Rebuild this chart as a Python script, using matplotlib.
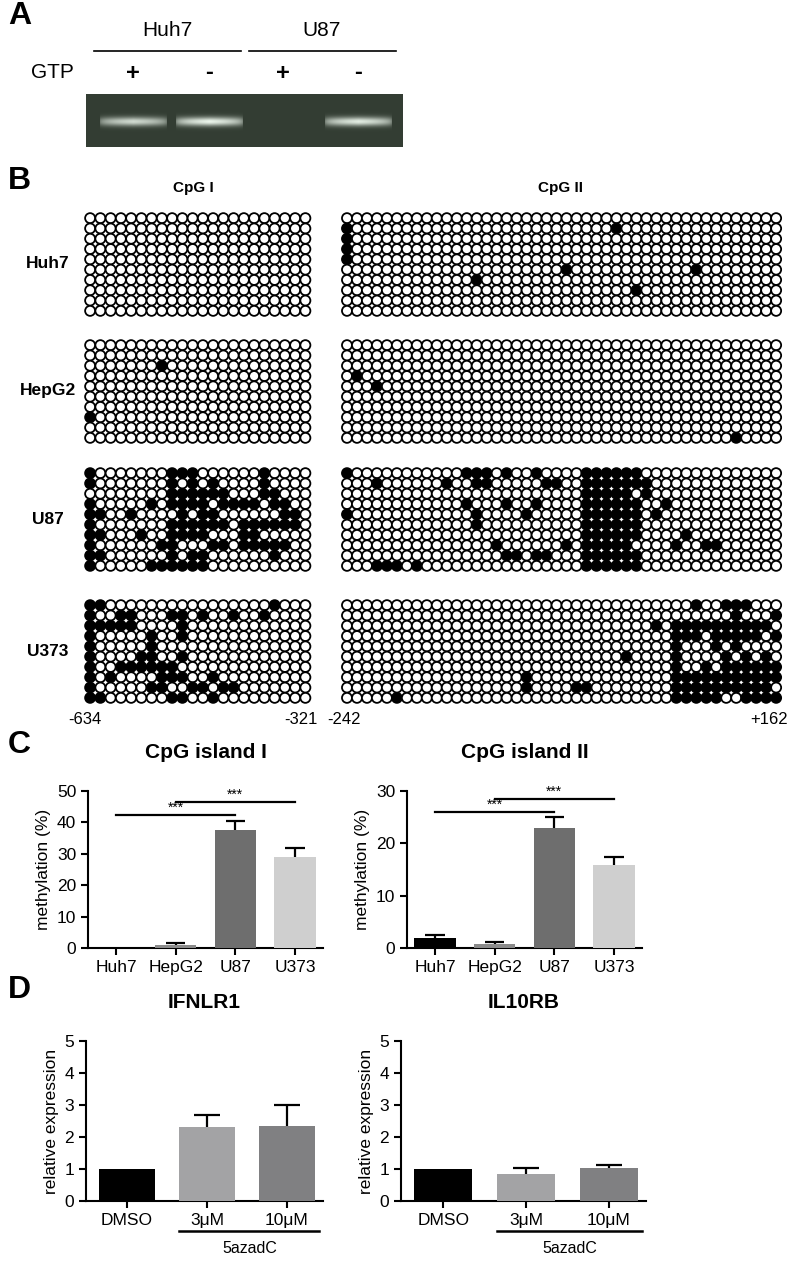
import matplotlib
matplotlib.use("Agg")
import matplotlib.pyplot as plt
import numpy as np

plt.rcParams["font.family"] = "Liberation Sans"

# ---------------- data ----------------
gel_lanes = ["+", "-", "+", "-"]
gel_band = [0.85, 1.0, 0.0, 0.95]

cell_lines = ["Huh7", "HepG2", "U87", "U373"]

cpg1_huh7 = ["0" * 22] * 10
cpg1_hepg2 = ["0" * 22, "0" * 22, "0000000100000000000000", "0" * 22, "0" * 22,
              "0" * 22, "0" * 22, "1000000000000000000000", "0" * 22, "0" * 22]
cpg1_u87 = [
    "1000000011100000010000",
    "1000000010101000010000",
    "0000000011111100011000",
    "1000001011110111101100",
    "1100100001011000000110",
    "1000000011111101111110",
    "1100010011110001100000",
    "1000000110001101111100",
    "1100000010110000001000",
    "1000001111110000000000",
]
cpg1_u373 = [
    "1100000000000000001000",
    "1001100011010010010000",
    "1111100001000000000000",
    "1000001001000000000000",
    "1000001000000000000000",
    "1000011001000000000000",
    "1001111110000000000000",
    "1010000111001000000000",
    "1000001100110110000000",
    "1100000011001000000000",
]

def row44(cols):
    return "".join("1" if i in cols else "0" for i in range(44))

cpg2_huh7 = [row44([]), row44([0, 27]), row44([0]), row44([0]), row44([0]),
             row44([22, 35]), row44([13]), row44([29]), row44([]), row44([])]
cpg2_hepg2 = [row44([]), row44([]), row44([]), row44([1]), row44([3]),
              row44([]), row44([]), row44([]), row44([]), row44([39])]
cpg2_u87 = [
    row44([0, 12, 13, 14, 16, 19, 24, 25, 26, 27, 28, 29]),
    row44([3, 10, 13, 14, 20, 21, 24, 25, 26, 27, 28, 29, 30]),
    row44([24, 25, 26, 27, 28, 30]),
    row44([12, 16, 19, 24, 25, 26, 27, 28, 29, 32]),
    row44([0, 13, 18, 24, 25, 26, 27, 28, 29, 31]),
    row44([13, 24, 25, 26, 27, 28, 29]),
    row44([24, 25, 26, 27, 28, 29, 34]),
    row44([15, 22, 24, 25, 26, 27, 28, 33, 36, 37]),
    row44([16, 17, 19, 20, 24, 25, 26, 27, 28, 29]),
    row44([3, 4, 5, 7, 24, 25, 26, 27, 28, 29]),
]
cpg2_u373 = [
    row44([35, 38, 39, 40]),
    row44([39, 43]),
    row44([31, 33, 34, 35, 36, 37, 38, 39, 40, 41, 42]),
    row44([33, 34, 35, 37, 38, 39, 40, 41, 43]),
    row44([33, 37, 39]),
    row44([28, 33, 38, 40, 42]),
    row44([33, 36, 38, 39, 40, 41, 42, 43]),
    row44([18, 33, 34, 35, 36, 37, 38, 39, 40, 41, 42, 43]),
    row44([18, 23, 24, 33, 34, 35, 36, 37, 38, 39, 40, 41, 42]),
    row44([5, 33, 34, 35, 36, 37, 40, 41, 42, 43]),
]
cpg1_blocks = [cpg1_huh7, cpg1_hepg2, cpg1_u87, cpg1_u373]
cpg2_blocks = [cpg2_huh7, cpg2_hepg2, cpg2_u87, cpg2_u373]
pos_labels = ["-634", "-321", "-242", "+162"]

meth1 = [0.0, 1.0, 37.5, 29.0]
meth1_err = [0.0, 0.6, 3.0, 2.7]
meth2 = [2.0, 0.8, 23.0, 15.8]
meth2_err = [0.5, 0.3, 2.0, 1.5]
bar_colors = ["#000000", "#8a8a8a", "#6e6e6e", "#cfcfcf"]

treat = ["DMSO", "3\u03bcM", "10\u03bcM"]
ifnlr1 = [1.0, 2.3, 2.35]
ifnlr1_err = [0.0, 0.4, 0.65]
il10rb = [1.0, 0.85, 1.02]
il10rb_err = [0.0, 0.18, 0.1]
treat_colors = ["#000000", "#a3a3a5", "#808082"]

# ---------------- figure ----------------
W, H = 792, 1267
fig = plt.figure(figsize=(W / 100, H / 100), dpi=100)
canvas = fig.add_axes([0, 0, 1, 1])
canvas.set_xlim(0, W)
canvas.set_ylim(H, 0)
canvas.axis("off")

# Panel A
canvas.text(8, 16, "A", fontsize=23, fontweight="bold", va="center")
canvas.text(167, 30, "Huh7", fontsize=15, ha="center", va="center")
canvas.text(322, 30, "U87", fontsize=15, ha="center", va="center")
canvas.plot([94, 241], [51, 51], color="black", lw=1.2)
canvas.plot([249, 396], [51, 51], color="black", lw=1.2)
canvas.text(52, 73, "GTP", fontsize=15, ha="center", va="center")
lane_x = [133, 209, 283, 358]
for lx, s in zip(lane_x, gel_lanes):
    canvas.text(lx, 73, s, fontsize=17, fontweight="bold", ha="center", va="center")
gx0, gx1, gy0, gy1 = 86, 403, 94, 147
nx, ny = 317, 53
img = np.zeros((ny, nx, 3))
img[:] = np.array([0.2, 0.24, 0.2])
xs = np.arange(nx) + gx0
ys = np.arange(ny) + gy0
for lx, b in zip(lane_x, gel_band):
    if b <= 0:
        continue
    wx = np.clip(1 - np.abs(xs - lx) / 34, 0, 1) ** 0.25
    wy = np.exp(-((ys - 121) / 4.5) ** 2)
    m = b * np.outer(wy, wx)
    img = img + m[:, :, None] * (np.array([0.92, 0.96, 0.92]) - img)
canvas.imshow(img, extent=[gx0, gx1, gy1, gy0], aspect="auto", zorder=1)

# Panel B
canvas.text(8, 181, "B", fontsize=23, fontweight="bold", va="center")
canvas.text(193, 188, "CpG I", fontsize=11, fontweight="bold", ha="center", va="center")
canvas.text(560, 188, "CpG II", fontsize=11, fontweight="bold", ha="center", va="center")
block_top = [213, 340, 468, 600]
for bi, name in enumerate(cell_lines):
    canvas.text(48, block_top[bi] + 51, name, fontsize=12.5, fontweight="bold",
                ha="center", va="center")
    for blocks, x0, dx in [(cpg1_blocks, 85, 10.25), (cpg2_blocks, 342, 9.98)]:
        rows = blocks[bi]
        px, py, fc = [], [], []
        for r, row in enumerate(rows):
            for c, ch in enumerate(row):
                px.append(x0 + dx * (c + 0.5))
                py.append(block_top[bi] + 10.3 * (r + 0.5))
                fc.append("black" if ch == "1" else "white")
        canvas.scatter(px, py, s=52, facecolors=fc, edgecolors="black",
                       linewidths=1.3, zorder=3)
for x, t, ha in zip([85, 318, 327, 788], pos_labels, ["center", "right", "left", "right"]):
    canvas.text(x, 720, t, fontsize=12, ha=ha, va="center")

# Panel C
canvas.text(8, 745, "C", fontsize=23, fontweight="bold", va="center")
canvas.text(8, 990, "D", fontsize=23, fontweight="bold", va="center")


def px_axes(x0, x1, y0, y1):
    return fig.add_axes([x0 / W, 1 - y1 / H, (x1 - x0) / W, (y1 - y0) / H])


def style(ax, title):
    for s in ["top", "right"]:
        ax.spines[s].set_visible(False)
    for s in ["left", "bottom"]:
        ax.spines[s].set_linewidth(1.5)
    ax.tick_params(width=1.5, length=5, labelsize=12.5)
    ax.set_title(title, fontsize=15, fontweight="bold", pad=24)


def upper_err(ax, x, vals, errs, half):
    for xi, v, e in zip(x, vals, errs):
        if e <= 0:
            continue
        ax.vlines(xi, v, v + e, color="black", lw=1.6, zorder=2)
        ax.hlines(v + e, xi - half, xi + half, color="black", lw=1.6, zorder=2)


def sig(ax, x0, x1, y):
    ax.plot([x0, x1], [y, y], color="black", lw=1.6, clip_on=False)
    ax.text((x0 + x1) / 2, y, "***", ha="center", va="bottom", fontsize=10)


for (x0, x1), vals, errs, title, ymax, step, sigs in [
    ((88, 323), meth1, meth1_err, "CpG island I", 50, 10, [(0, 2, 42.5), (1, 3, 46.5)]),
    ((407, 642), meth2, meth2_err, "CpG island II", 30, 10, [(0, 2, 26), (1, 3, 28.5)]),
]:
    ax = px_axes(x0, x1, 791, 948)
    x = np.arange(len(cell_lines))
    ax.bar(x, vals, width=0.69, color=bar_colors, zorder=3)
    upper_err(ax, x, vals, errs, 0.16)
    ax.set_xlim(-0.47, 3.47)
    ax.set_ylim(0, ymax)
    ax.set_yticks(np.arange(0, ymax + 1, step))
    ax.set_xticks(x)
    ax.set_xticklabels(cell_lines)
    ax.set_ylabel("methylation (%)", fontsize=12.5)
    style(ax, title)
    for a, b, y in sigs:
        sig(ax, a, b, y)

# Panel D
for (x0, x1), vals, errs, title in [
    ((86, 323), ifnlr1, ifnlr1_err, "IFNLR1"),
    ((401, 646), il10rb, il10rb_err, "IL10RB"),
]:
    ax = px_axes(x0, x1, 1041, 1201)
    x = np.arange(len(treat))
    ax.bar(x, vals, width=0.7, color=treat_colors, zorder=3)
    upper_err(ax, x, vals, errs, 0.16)
    ax.set_xlim(-0.51, 2.45)
    ax.set_ylim(0, 5)
    ax.set_yticks(range(6))
    ax.set_xticks(x)
    ax.set_xticklabels(treat)
    ax.set_ylabel("relative expression", fontsize=12.5)
    style(ax, title)
    ax.plot([0.65, 2.4], [-0.94, -0.94], color="black", lw=1.8, clip_on=False)
    ax.text(1.53, -1.47, "5azadC", ha="center", va="center", fontsize=11.5)

fig.savefig("out.png", dpi=100)
